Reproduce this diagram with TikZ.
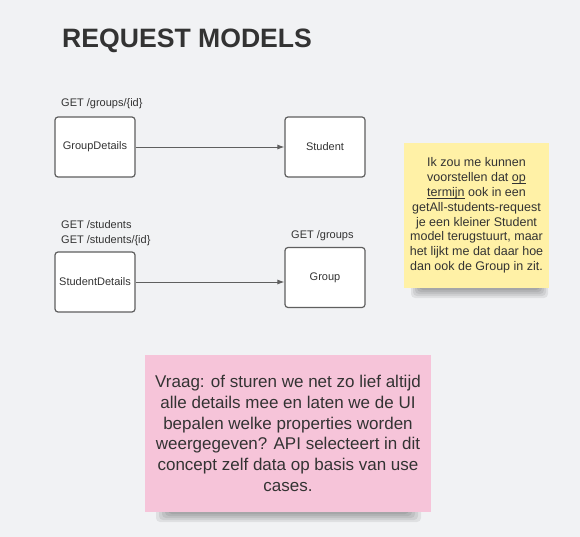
\documentclass[tikz,border=0pt]{standalone}
\usepackage{fontspec}
\setmainfont{Liberation Sans}
\usetikzlibrary{arrows.meta}
\definecolor{bg}{HTML}{F1F2F4}
\definecolor{ink}{HTML}{333333}
\definecolor{edge}{HTML}{5F5F5F}
\definecolor{noteyellow}{HTML}{FFF1A6}
\definecolor{notepink}{HTML}{F6C4D9}
\newcommand{\uline}[1]{\underline{\smash{#1}}}

\begin{document}
\begin{tikzpicture}[
    x=1pt, y=-1pt, text=ink,
    model/.style={draw=edge, line width=1.2pt, fill=white, rounded corners=3pt,
        minimum width=80pt, minimum height=60pt, font=\fontsize{11}{13}\selectfont},
    endpoint/.style={anchor=base west, inner sep=0pt, font=\fontsize{11}{13}\selectfont},
    link/.style={draw=edge, line width=0.9pt, -{Latex[length=7pt,width=5pt]}},
    note/.style={inner sep=0pt, align=center},
    shade/.style={black, opacity=0.07, rounded corners=4pt}
]

\useasboundingbox[fill=bg] (0,0) rectangle (580,537);

\node[anchor=base west, inner sep=0pt, font=\bfseries\fontsize{26.6}{30}\selectfont] (title) at (62,47.5) {REQUEST MODELS};

\node[endpoint] (get-gd) at (61,107) {GET /groups/\{id\}};
\node[endpoint] (get-sd1) at (61,229) {GET /students};
\node[endpoint] (get-sd2) at (61,243) {GET /students/\{id\}};
\node[endpoint] (get-gr) at (291,238) {GET /groups};

\node[model] (gd) at (95,147) {GroupDetails};
\node[model] (st) at (325,147) {Student};
\node[model] (sd) at (95,282) {StudentDetails};
\node[model] (gr) at (325,277.5) {Group};

\draw[link] (gd) -- (st);
\draw[link] (sd) -- (sd -| gr.west);

\foreach \d in {0,...,4}
    \fill[shade] (411+2*\d,283) rectangle (548-2*\d,298-2*\d);
\node[note, fill=noteyellow, minimum width=145pt, minimum height=145pt,
    font=\fontsize{12.5}{14.8}\selectfont] (idea) at (476.5,215.5)
    {Ik zou me kunnen\\ voorstellen dat \uline{op}\\ \uline{termijn} ook in een\\
     getAll-students-request\\ je een kleiner Student\\ model terugstuurt, maar\\
     het lijkt me dat daar hoe\\ dan ook de Group in zit.};

\foreach \d in {0,...,4}
    \fill[shade] (156+3*\d,507) rectangle (421-3*\d,522-2*\d);
\node[note, fill=notepink, minimum width=286pt, minimum height=157pt,
    font=\fontsize{17}{20.7}\selectfont] (vraag) at (288,433.5)
    {Vraag: of sturen we net zo lief altijd\\ alle details mee en laten we de UI\\
     bepalen welke properties worden\\ weergegeven? API selecteert in dit\\
     concept zelf data op basis van use\\ cases.};

\end{tikzpicture}
\end{document}
